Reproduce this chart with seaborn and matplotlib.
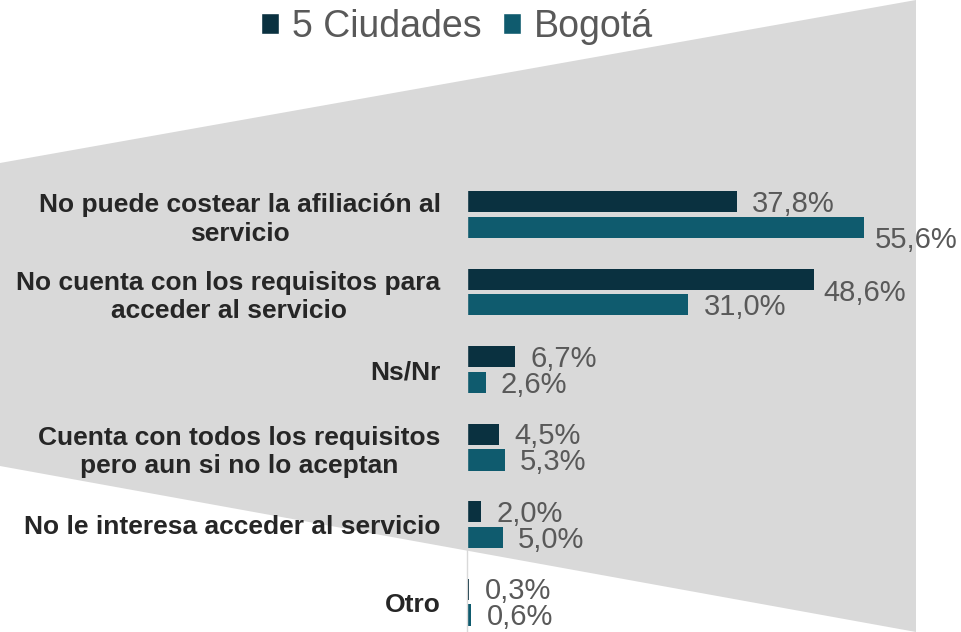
"""
Razones para no acceder al servicio: 5 Ciudades vs Bogotá
"""

import numpy as np
import matplotlib.pyplot as plt
import pandas as pd
import seaborn as sns
from matplotlib.patches import Patch, Polygon

sns.set_style("white")
plt.rcParams['font.family'] = ['Liberation Sans', 'DejaVu Sans']

# data
categorias = [
    "No puede costear la afiliación al\nservicio",
    "No cuenta con los requisitos para\nacceder al servicio",
    "Ns/Nr",
    "Cuenta con todos los requisitos\npero aun si no lo aceptan",
    "No le interesa acceder al servicio",
    "Otro",
]
ciudades = [37.8, 48.6, 6.7, 4.5, 2.0, 0.3]
bogota = [55.6, 31.0, 2.6, 5.3, 5.0, 0.6]
series = ["5 Ciudades", "Bogotá"]
colores = ["#0a3140", "#0f5b6e"]

df = pd.DataFrame({
    "categoria": categorias * 2,
    "serie": [series[0]] * len(categorias) + [series[1]] * len(categorias),
    "valor": ciudades + bogota,
})

W, H = 961, 632
fig = plt.figure(figsize=(W / 100, H / 100), dpi=100)

# gray trapezoid behind everything
fondo = Polygon([(0, 1 - 163 / H), (916 / W, 1), (916 / W, 0), (0, 1 - 466 / H)],
                closed=True, transform=fig.transFigure, facecolor="#d9d9d9",
                edgecolor="none", zorder=-10)
fig.patches.append(fondo)

ax = fig.add_axes([467 / W, 0, (895 - 467) / W, 1 - 175.75 / H])
ax.set_facecolor("none")
ax.set_zorder(1)

sns.barplot(data=df, y="categoria", x="valor", hue="serie", order=categorias,
            hue_order=series, palette=colores, orient="h", width=0.67, gap=0.19,
            saturation=1, linewidth=0, edgecolor="none", ax=ax, legend=False)

ax.set_xlim(0, 60)
ax.set_ylim(5.387, -0.5)
ax.set_xlabel("")
ax.set_ylabel("")
ax.set_xticks([])
for s in ["top", "right", "bottom"]:
    ax.spines[s].set_visible(False)
ax.spines["left"].set_color("#d9d9d9")
ax.spines["left"].set_linewidth(1)
ax.tick_params(axis="y", length=0, pad=19)
for lbl in ax.get_yticklabels():
    lbl.set_fontsize(19)
    lbl.set_fontweight("bold")
    lbl.set_color("#262626")
    lbl.set_multialignment("center")
    lbl.set_linespacing(1.25)

# value labels (two of them nudged like in the original)
ajustes = {(1, 0): (-4, -10), (0, 1): (-6, -12)}
for h, cont in enumerate(ax.containers):
    for i, bar in enumerate(cont):
        v = bar.get_width()
        dx, dy = ajustes.get((h, i), (0, 0))
        ax.annotate(f"{v:.1f}".replace(".", ",") + "%",
                    (v, bar.get_y() + bar.get_height() / 2),
                    xytext=(11 + dx * 0.72, -1.5 + dy * 0.72), textcoords="offset points",
                    ha="left", va="center", fontsize=21, color="#595959",
                    annotation_clip=False)

handles = [Patch(facecolor=c, label=s) for c, s in zip(colores, series)]
leg = fig.legend(handles=handles, loc="center", bbox_to_anchor=(457 / W, 1 - 27 / H),
                 ncol=2, frameon=False, fontsize=27, handlelength=0.48,
                 handleheight=0.48, handletextpad=0.35, columnspacing=0.55,
                 borderpad=0, borderaxespad=0)
for t in leg.get_texts():
    t.set_color("#595959")

plt.savefig("out.png", dpi=100)
